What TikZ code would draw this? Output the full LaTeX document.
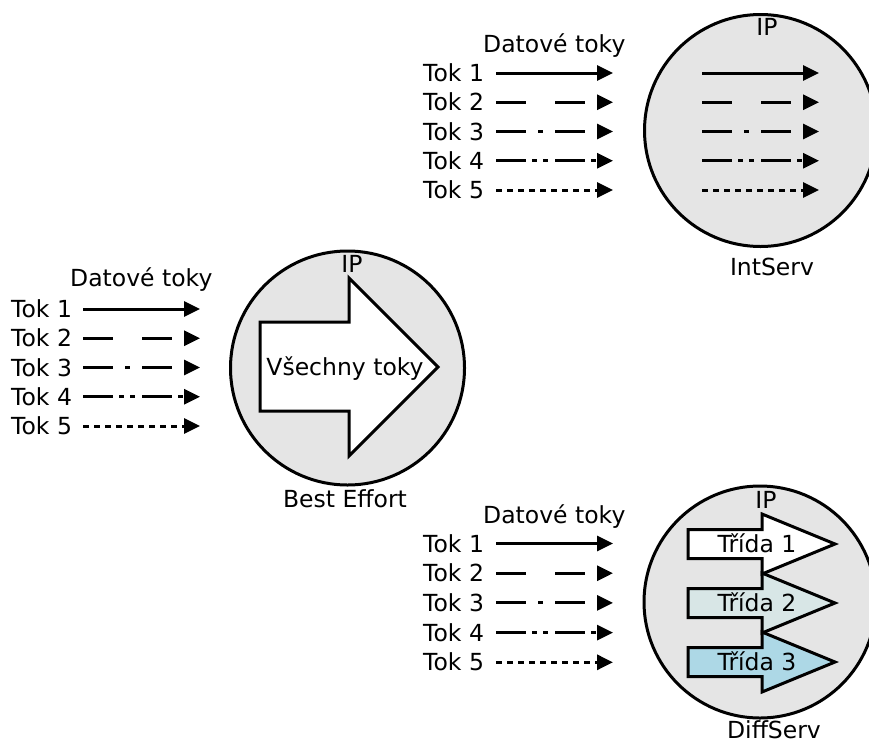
\documentclass[tikz,border=0pt]{standalone}
\usepackage{fontspec}
\setmainfont{DejaVu Sans}
\usetikzlibrary{arrows.meta}
\definecolor{ipgray}{HTML}{E5E5E5}
\definecolor{classtwo}{HTML}{D8E6E6}
\definecolor{classthree}{HTML}{ADD8E6}
\begin{document}
\begin{tikzpicture}[x=1pt, y=-1pt,
  lbl/.style={font=\fontsize{23.5pt}{28pt}\selectfont, inner sep=0pt},
  flow/.style={line width=3pt, -{Triangle[length=16pt,width=15pt]}},
  f1/.style={flow},
  f2/.style={flow, dash pattern=on 30pt off 29pt},
  f3/.style={flow, dash pattern=on 30pt off 12pt on 5pt off 12pt},
  f4/.style={flow, dash pattern=on 30pt off 6pt on 5pt off 6pt on 5pt off 7pt},
  f5/.style={flow, dash pattern=on 6pt off 5pt},
  ipcloud/.style={circle, draw, line width=3pt, fill=ipgray, inner sep=0pt},
  bigarrow/.style={draw, line width=3pt, line join=miter}]
\useasboundingbox (0,0) rectangle (869,744);

% IP networks
\node[ipcloud, minimum size=232pt] (intserv) at (760.5,130.5) {};
\node[ipcloud, minimum size=234pt] (besteffort) at (347.5,368) {};
\node[ipcloud, minimum size=232pt] (diffserv) at (760,602) {};

% labels of the networks
\node[lbl, anchor=base] (intserv-ip) at (767,35) {IP};
\node[lbl, anchor=base] (intserv-name) at (772,275) {IntServ};
\node[lbl, anchor=base] (besteffort-ip) at (352,272) {IP};
\node[lbl, anchor=base] (besteffort-name) at (345,507) {Best Effort};
\node[lbl, anchor=base] (diffserv-ip) at (766,508) {IP};
\node[lbl, anchor=base] (diffserv-name) at (774,738) {DiffServ};

% incoming data flows of the three groups
\foreach \g/\tx/\ax/\bx/\yy/\dy/\hx/\hy in
  {top/423/496/613/73/29.25/483/52,
   mid/11/83/200/309/29.25/70/286,
   bot/423/496/613/543.5/29.7/483/523} {
  \node[lbl, anchor=base west] (\g-title) at (\hx,\hy) {Datové toky};
  \foreach \i in {1,...,5} {
    \pgfmathsetmacro\yl{\yy+(\i-1)*\dy}
    \node[lbl, anchor=base west] (\g-tok\i) at (\tx,\yl+8.5) {Tok \i};
    \coordinate (\g-s\i) at (\ax,\yl);
    \coordinate (\g-e\i) at (\bx,\yl);
    \draw[f\i] (\g-s\i) -- (\g-e\i);
  }
}

% IntServ keeps every flow separate
\foreach \i in {1,...,5} {
  \pgfmathsetmacro\yl{73+(\i-1)*29.25}
  \coordinate (is-s\i) at (702,\yl);
  \coordinate (is-e\i) at (819,\yl);
  \draw[f\i] (is-s\i) -- (is-e\i);
}

% Best Effort merges all flows
\draw[bigarrow, fill=white] (260,322) -- (349,322) -- (349,278) -- (438,367)
  -- (349,456) -- (349,411) -- (260,411) -- cycle;
\node[lbl, anchor=base] (allflows) at (345,375) {Všechny toky};

% DiffServ groups flows into classes
\foreach \cy/\col/\n in {544/white/1, 603/classtwo/2, 662/classthree/3} {
  \draw[bigarrow, fill=\col] (688,\cy-14.5) -- (762,\cy-14.5) -- (762,\cy-30)
    -- (835,\cy) -- (762,\cy+30) -- (762,\cy+14.5) -- (688,\cy+14.5) -- cycle;
  \node[lbl, anchor=base] (class\n) at (757,\cy+8.5) {Třída \n};
}
\end{tikzpicture}
\end{document}
